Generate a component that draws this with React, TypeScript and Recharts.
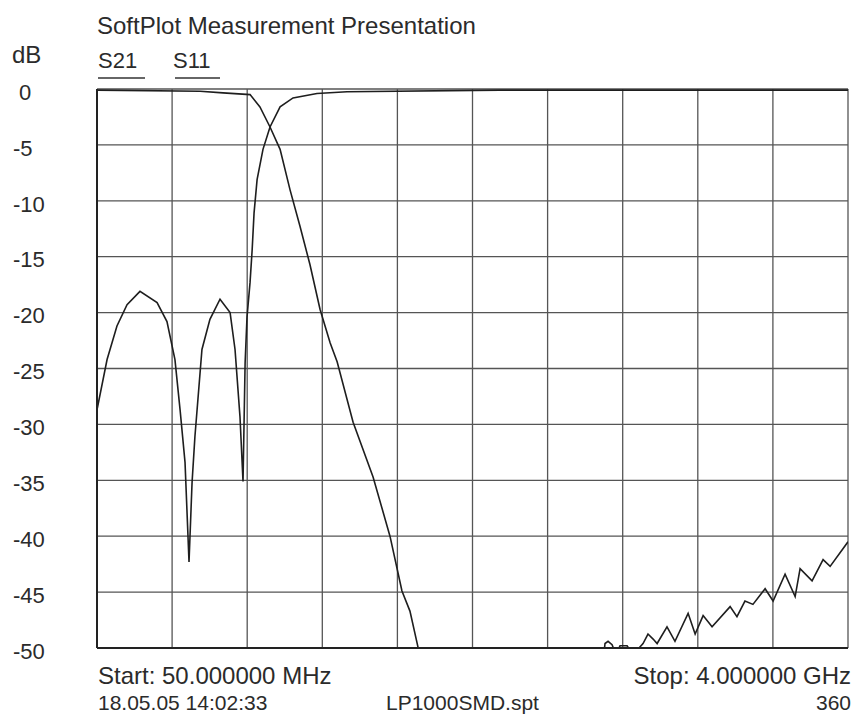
import { CartesianGrid, Line, LineChart, XAxis, YAxis } from "recharts";

// frequency in MHz, level in dB (values below -50 are off the plot and get clipped)
const s21Freq = [
  50, 592, 713, 855, 907, 960, 1013, 1065, 1118, 1170, 1223, 1276, 1313, 1397, 1502, 1591, 1654, 1696, 1738, 1760,
  2700, 2722, 2738, 2759, 2780, 2801, 2838, 2869, 2922, 2948, 2975, 2996, 3048, 3090, 3159, 3196, 3238, 3285, 3380,
  3416, 3458, 3500, 3564, 3606, 3669, 3722, 3748, 3811, 3869, 3906, 4000,
];
const s21Db = [
  -0.1, -0.2, -0.35, -0.5, -1.6, -3.4, -5.4, -9.0, -12.3, -15.7, -19.7, -22.7, -24.4, -29.8, -34.7, -40.0, -44.9, -46.7,
  -49.9, -53, -53, -49.6, -49.4, -49.7, -50.6, -49.8, -49.8, -50.6, -49.6, -48.75, -49.2, -49.6, -48.1, -49.4, -46.9,
  -48.75, -47.1, -48.1, -46.3, -47.2, -45.8, -46.1, -44.7, -45.8, -43.4, -45.4, -42.9, -44.0, -42.1, -42.7, -40.5,
];

const s11Freq = [
  50, 103, 155, 208, 276, 366, 418, 460, 487, 513, 534, 550, 565, 602, 644, 697, 750, 776, 802, 818, 829, 839, 855, 866,
  876, 892, 923, 960, 1013, 1081, 1207, 1365, 2170, 4000,
];
const s11Db = [
  -28.7, -24.2, -21.2, -19.3, -18.1, -19.1, -20.8, -24.2, -28.7, -33.4, -42.3, -35.2, -31.1, -23.3, -20.6, -18.8, -20.0,
  -23.3, -29.3, -35.1, -24.5, -20.4, -17.3, -14.4, -11.1, -8.1, -5.4, -3.4, -1.6, -0.8, -0.4, -0.25, -0.1, -0.1,
];

const freqTicks = [50, 445, 840, 1235, 1630, 2025, 2420, 2815, 3210, 3605, 4000];
const dbTicks = [0, -5, -10, -15, -20, -25, -30, -35, -40, -45, -50];

const s21 = s21Freq.map((f, i) => ({ f, db: s21Db[i] }));
const s11 = s11Freq.map((f, i) => ({ f, db: s11Db[i] }));

const FONT = "'Liberation Sans', Arial, sans-serif";
const INK = "#2b2b2b";

function DbTick({ y, payload }: any) {
  return (
    <text x={payload.value === 0 ? 19 : 13} y={y + 3} dy="0.35em" textAnchor="start" fill={INK} fontSize={22} fontFamily={FONT}>
      {payload.value}
    </text>
  );
}

function NoTick() {
  return <g />;
}

const txt = (left: number, top: number, size = 24) => ({
  position: "absolute" as const,
  left,
  top,
  fontSize: size,
  fontFamily: FONT,
  color: INK,
  whiteSpace: "nowrap" as const,
  lineHeight: 1,
});

export default function App() {
  return (
    <div style={{ position: "absolute", left: 0, top: 0, width: 852, height: 717, background: "#fff", overflow: "hidden" }}>
      <LineChart width={852} height={717} margin={{ top: 89, right: 4, bottom: 68, left: 0 }}>
        <CartesianGrid stroke="#555" strokeWidth={1.3} horizontalValues={dbTicks} verticalValues={freqTicks} />
        <XAxis
          dataKey="f"
          type="number"
          domain={[50, 4000]}
          ticks={freqTicks}
          tick={<NoTick />}
          tickLine={false}
          height={1}
          axisLine={{ stroke: "#222", strokeWidth: 2 }}
          allowDataOverflow
        />
        <YAxis
          type="number"
          domain={[-50, 0]}
          ticks={dbTicks}
          tick={<DbTick />}
          tickLine={false}
          width={97}
          axisLine={{ stroke: "#222", strokeWidth: 2 }}
          allowDataOverflow
        />
        <Line data={s21} dataKey="db" type="linear" stroke="#1e1e1e" strokeWidth={1.6} dot={false} isAnimationActive={false} />
        <Line data={s11} dataKey="db" type="linear" stroke="#1e1e1e" strokeWidth={1.6} dot={false} isAnimationActive={false} />
      </LineChart>

      <div style={txt(97, 14)}>SoftPlot Measurement Presentation</div>
      <div style={txt(12, 43)}>dB</div>
      <div style={txt(98, 50, 22)}>S21</div>
      <div style={txt(173, 50, 22)}>S11</div>
      <div style={{ position: "absolute", left: 98, top: 77, width: 47, height: 2, background: "#666" }} />
      <div style={{ position: "absolute", left: 175, top: 77, width: 45, height: 2, background: "#666" }} />

      <div style={txt(98, 664)}>Start: 50.000000 MHz</div>
      <div style={{ ...txt(0, 664), left: "auto", right: 1 }}>Stop: 4.000000 GHz</div>
      <div style={txt(98, 692, 21)}>18.05.05 14:02:33</div>
      <div style={txt(386, 692, 21)}>LP1000SMD.spt</div>
      <div style={{ ...txt(0, 692, 21), left: "auto", right: 1 }}>360</div>
    </div>
  );
}
